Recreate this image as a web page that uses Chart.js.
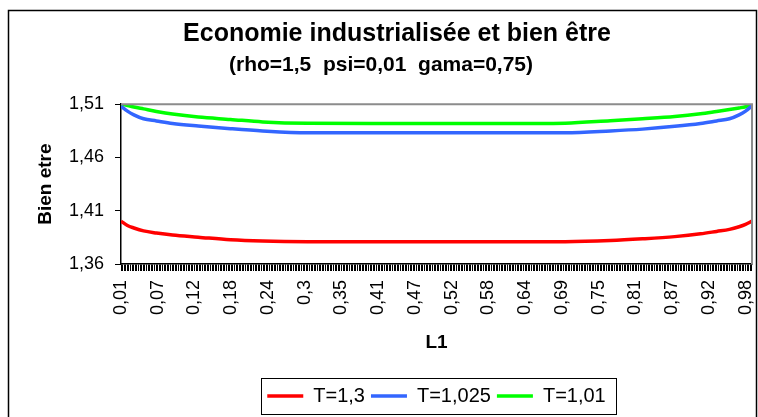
<!DOCTYPE html>
<html>
<head>
<meta charset="utf-8">
<script src="https://cdn.jsdelivr.net/npm/chart.js@4.4.1/dist/chart.umd.min.js"></script>
<style>
  html, body { margin: 0; padding: 0; background: #fff; }
  #wrap { width: 758px; height: 417px; }
</style>
</head>
<body>
<div id="wrap"><canvas id="bien-etre"></canvas></div>
<script>
// L1 sample points and welfare read for each T
const L1 = [0.01, 0.02, 0.03, 0.045, 0.065, 0.09, 0.13, 0.18, 0.23, 0.30, 0.40, 0.50,
            0.60, 0.70, 0.77, 0.82, 0.87, 0.91, 0.935, 0.955, 0.97, 0.98, 0.99];
const bienT13 = [1.4003, 1.3961, 1.3938, 1.3911, 1.3891, 1.3872, 1.3852, 1.3827, 1.3815, 1.3810, 1.3810, 1.3810,
                 1.3810, 1.3810, 1.3820, 1.3836, 1.3857, 1.3883, 1.3906, 1.3925, 1.3950, 1.3972, 1.4003];
const bienT1025 = [1.5081, 1.5035, 1.5000, 1.4963, 1.4943, 1.4919, 1.4895, 1.4870, 1.4849, 1.4832, 1.4831, 1.4831,
                   1.4831, 1.4832, 1.4849, 1.4866, 1.4892, 1.4919, 1.4943, 1.4963, 1.5000, 1.5035, 1.5085];
const bienT101 = [1.5100, 1.5088, 1.5074, 1.5056, 1.5032, 1.5007, 1.4979, 1.4957, 1.4934, 1.4921, 1.4919, 1.4919,
                  1.4919, 1.4922, 1.4945, 1.4963, 1.4984, 1.5010, 1.5032, 1.5050, 1.5065, 1.5076, 1.5100];

const seriesNames = ['T=1,3', 'T=1,025', 'T=1,01'];
const seriesColors = ['#ff0000', '#3366ff', '#00ff00'];

const xTickLabels = ['0,01', '0,07', '0,12', '0,18', '0,24', '0,3', '0,35', '0,41', '0,47',
                     '0,52', '0,58', '0,64', '0,69', '0,75', '0,81', '0,87', '0,92', '0,98'];
const yTicks = [1.36, 1.41, 1.46, 1.51];
const minorPerLabel = 23;   // category ticks between two labels

const FONT = "'Liberation Sans', Arial, sans-serif";
Chart.defaults.font.family = FONT;
Chart.defaults.color = '#000';

const toPoints = (vals) => L1.map((x, i) => ({ x: x, y: vals[i] }));

// white page, outer frame, plot border and legend box
const frame = {
  id: 'frame',
  beforeDraw(chart) {
    const ctx = chart.ctx;
    ctx.save();
    ctx.fillStyle = '#fff';
    ctx.fillRect(0, 0, chart.width, chart.height);
    ctx.strokeStyle = '#000';
    ctx.lineWidth = 1.5;
    ctx.strokeRect(8.5, 10.5, 748, 430);
    ctx.restore();
  },
  afterDatasetsDraw(chart) {
    const { ctx, chartArea: a } = chart;
    ctx.save();
    ctx.strokeStyle = '#8c8c8c';
    ctx.lineWidth = 2;
    ctx.beginPath();
    ctx.moveTo(a.left, a.top);
    ctx.lineTo(a.right, a.top);
    ctx.lineTo(a.right, a.bottom);
    ctx.stroke();
    ctx.restore();
  },
  afterDraw(chart) {
    const boxes = chart.legend.legendHitBoxes;
    if (!boxes || !boxes.length) return;
    const left = Math.min(...boxes.map(b => b.left)) - 6;
    const right = Math.max(...boxes.map(b => b.left + b.width)) + 11;
    const cy = boxes[0].top + boxes[0].height / 2;
    const ctx = chart.ctx;
    ctx.save();
    ctx.strokeStyle = '#000';
    ctx.lineWidth = 1;
    ctx.strokeRect(Math.round(left) + 0.5, Math.round(cy - 18) + 0.5, Math.round(right - left), 36);
    ctx.restore();
  }
};

// main heading
const heading = {
  id: 'heading',
  afterDraw(chart) {
    const ctx = chart.ctx;
    ctx.save();
    ctx.font = 'bold 25px ' + FONT;
    ctx.fillStyle = '#000';
    ctx.textAlign = 'center';
    ctx.textBaseline = 'middle';
    ctx.fillText('Economie industrialisée et bien être', 397, 34);
    ctx.restore();
  }
};

const ctx = document.getElementById('bien-etre');
const chart = new Chart(ctx, {
  type: 'line',
  data: {
    datasets: [bienT13, bienT1025, bienT101].map((vals, i) => ({
      label: seriesNames[i],
      data: toPoints(vals),
      borderColor: seriesColors[i],
      backgroundColor: seriesColors[i],
      borderWidth: 3.5,
      pointRadius: 0,
      cubicInterpolationMode: 'monotone',
      fill: false,
    })),
  },
  options: {
    responsive: true,
    maintainAspectRatio: false,
    animation: false,
    layout: { padding: { left: 10, right: 6, top: 52, bottom: 1 } },
    plugins: {
      title: { display: false },
      subtitle: {
        display: true,
        text: '(rho=1,5  psi=0,01  gama=0,75)',
        color: '#000',
        font: { size: 21, weight: 'bold' },
        padding: { top: 1, bottom: 26 },
      },
      legend: {
        position: 'bottom',
        fullSize: false,
        labels: {
          color: '#000',
          font: { size: 20 },
          usePointStyle: true,
          pointStyle: 'line',
          pointStyleWidth: 36,
          padding: 6,
        },
      },
      tooltip: { enabled: false },
    },
    scales: {
      x: {
        type: 'linear',
        min: 0.01,
        max: 0.99,
        afterBuildTicks(scale) {
          const step = (0.98 - 0.01) / ((xTickLabels.length - 1) * minorPerLabel);
          const ticks = [];
          for (let i = 0; 0.01 + i * step <= 0.99 + 1e-9; i++) ticks.push({ value: 0.01 + i * step });
          scale.ticks = ticks;
        },
        afterFit(scale) {
          scale.height = 116;
          scale.paddingLeft = 0;
          scale.paddingRight = 0;
        },
        ticks: {
          autoSkip: false,
          minRotation: 90,
          maxRotation: 90,
          padding: 9,
          color: '#000',
          font: { size: 18 },
          callback: (v, i) => (i % minorPerLabel === 0 ? (xTickLabels[i / minorPerLabel] || '') : ''),
        },
        grid: { drawOnChartArea: false, color: '#000', tickLength: 7, lineWidth: 1 },
        border: { color: '#000', width: 1.5 },
        title: {
          display: true,
          text: 'L1',
          color: '#000',
          font: { size: 19, weight: 'bold' },
          padding: { top: 0, bottom: 26 },
        },
      },
      y: {
        min: 1.36,
        max: 1.51,
        afterBuildTicks(scale) { scale.ticks = yTicks.map(v => ({ value: v })); },
        afterFit(scale) {
          scale.width = 111;
          scale.paddingTop = 0;
          scale.paddingBottom = 0;
        },
        ticks: {
          padding: 11,
          color: '#000',
          font: { size: 18 },
          callback: (v) => v.toFixed(2).replace('.', ','),
        },
        grid: { drawOnChartArea: false, color: '#000', tickLength: 6 },
        border: { color: '#000', width: 1.5 },
        title: {
          display: true,
          text: 'Bien etre',
          color: '#000',
          font: { size: 19, weight: 'bold' },
          padding: { top: 24 },
        },
      },
    },
  },
  plugins: [frame, heading],
});
</script>
</body>
</html>
